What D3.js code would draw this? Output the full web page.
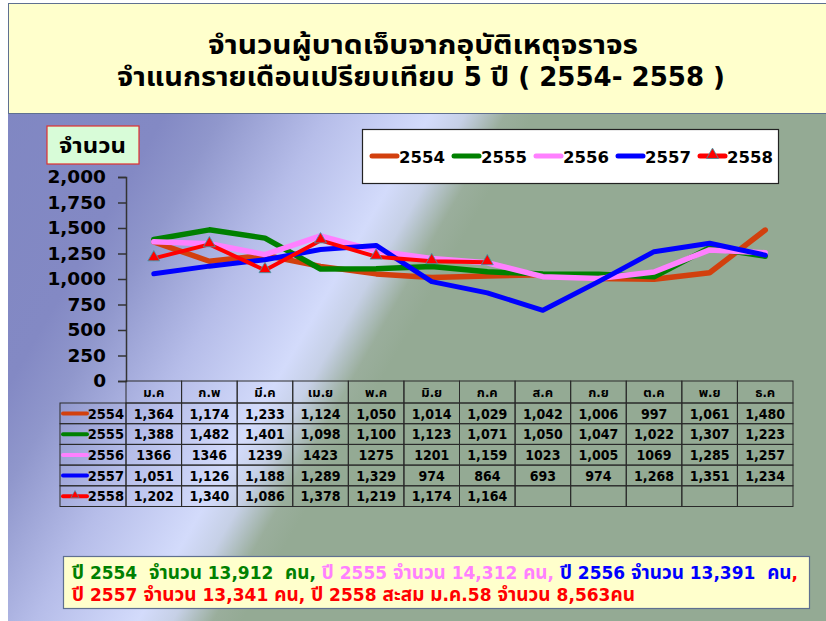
<!DOCTYPE html>
<html lang="th">
<head>
<meta charset="UTF-8">
<title>จำนวนผู้บาดเจ็บจากอุบัติเหตุจราจร</title>
<script src="https://cdnjs.cloudflare.com/ajax/libs/d3/7.8.5/d3.min.js"></script>
<style>
  body { margin: 0; background: #fff; }
  svg { display: block; }
  text { font-family: "DejaVu Sans Condensed", "Noto Sans Thai", "DejaVu Sans", sans-serif; font-weight: bold; }
  .pre { white-space: pre; }
</style>
</head>
<body>
<div id="chart"></div>
<script>
const months = ["ม.ค", "ก.พ", "มี.ค", "เม.ย", "พ.ค", "มิ.ย", "ก.ค", "ส.ค", "ก.ย", "ต.ค", "พ.ย", "ธ.ค"];
const years = ["2554", "2555", "2556", "2557", "2558"];
const v2554 = [1364, 1174, 1233, 1124, 1050, 1014, 1029, 1042, 1006, 997, 1061, 1480];
const v2555 = [1388, 1482, 1401, 1098, 1100, 1123, 1071, 1050, 1047, 1022, 1307, 1223];
const v2556 = [1366, 1346, 1239, 1423, 1275, 1201, 1159, 1023, 1005, 1069, 1285, 1257];
const v2557 = [1051, 1126, 1188, 1289, 1329, 974, 864, 693, 974, 1268, 1351, 1234];
const v2558 = [1202, 1340, 1086, 1378, 1219, 1174, 1164];
// cells of 2556 that the table shows without thousands separator
const plain2556 = [0, 1, 2, 3, 4, 5, 7, 9];
const yTicks = [0, 250, 500, 750, 1000, 1250, 1500, 1750, 2000];
const colors = ["#d2400e", "#008000", "#ff80ff", "#0000ff", "#ff0000"];
const widths = [5.5, 5.5, 5.5, 5, 4];

const series = years.map((y, i) => ({
  name: y,
  values: [v2554, v2555, v2556, v2557, v2558][i],
  color: colors[i],
  width: widths[i],
  marker: i === 4
}));

const W = 826, H = 621;
const svg = d3.select("#chart").append("svg").attr("width", W).attr("height", H);

// background gradient
const defs = svg.append("defs");
const grad = defs.append("linearGradient").attr("id", "bg")
  .attr("gradientUnits", "userSpaceOnUse")
  .attr("x1", 0).attr("y1", 0).attr("x2", 866).attr("y2", 500);
[[0, "#7f86c2"], [0.2, "#8389c4"], [0.25, "#9097cc"], [0.34, "#b6bde9"], [0.43, "#d3dbfb"],
 [0.46, "#c6d0e6"], [0.495, "#9aae9c"], [0.52, "#94aa94"], [1, "#94aa94"]]
  .forEach(s => grad.append("stop").attr("offset", s[0]).attr("stop-color", s[1]));

svg.append("rect").attr("x", 8).attr("y", 113).attr("width", W - 8).attr("height", H - 113)
  .attr("fill", "url(#bg)");

// title box
svg.append("rect").attr("x", 8.5).attr("y", 3.5).attr("width", W).attr("height", 110)
  .attr("fill", "#ffffcc").attr("stroke", "#5f7090");
svg.append("text").attr("x", 208).attr("y", 54)
  .attr("font-size", 26).attr("textLength", 430).attr("lengthAdjust", "spacingAndGlyphs")
  .text("จำนวนผู้บาดเจ็บจากอุบัติเหตุจราจร");
svg.append("text").attr("x", 117).attr("y", 86)
  .attr("font-size", 26).attr("textLength", 608).attr("lengthAdjust", "spacingAndGlyphs")
  .text("จำแนกรายเดือนเปรียบเทียบ 5 ปี ( 2554- 2558 )");

// scales
const x = d3.scaleBand().domain(months).range([126, 793]);
const y = d3.scaleLinear().domain([0, 2000]).range([381, 177]);
const cx = m => x(m) + x.bandwidth() / 2;

// y axis
const yAxis = svg.append("g").attr("transform", "translate(126,0)")
  .call(d3.axisLeft(y).tickValues(yTicks).tickSize(8).tickPadding(12).tickFormat(d3.format(",")));
yAxis.select(".domain").attr("stroke", "#333").attr("stroke-width", 1.5);
yAxis.selectAll(".tick line").attr("stroke", "#333").attr("stroke-width", 1.5);
yAxis.selectAll(".tick text").attr("font-size", 18.5).attr("fill", "#000")
  .style("font-family", "'DejaVu Sans', sans-serif");

// y label box
svg.append("rect").attr("x", 47).attr("y", 126).attr("width", 92).attr("height", 38)
  .attr("fill", "#d8fcd8").attr("stroke", "#e03030").attr("stroke-width", 1.2);
svg.append("text").attr("x", 59).attr("y", 153)
  .attr("font-size", 22).attr("textLength", 67).attr("lengthAdjust", "spacingAndGlyphs").text("จำนวน");

// lines
const line = d3.line().x((d, i) => cx(months[i])).y(d => y(d));
const tri = d3.symbol().type(d3.symbolTriangle).size(62);
series.forEach(s => {
  svg.append("path").datum(s.values)
    .attr("d", line).attr("fill", "none")
    .attr("stroke", s.color).attr("stroke-width", s.width)
    .attr("stroke-linejoin", "round").attr("stroke-linecap", "round");
  if (s.marker) {
    svg.selectAll(null).data(s.values).enter().append("path")
      .attr("d", tri)
      .attr("transform", (d, i) => `translate(${cx(months[i])},${y(d) - 1})`)
      .attr("fill", "#ff0000").attr("stroke", "#33a0b0").attr("stroke-width", 0.8);
  }
});

// legend box
svg.append("rect").attr("x", 362.5).attr("y", 129.5).attr("width", 416).attr("height", 54)
  .attr("fill", "#fff").attr("stroke", "#222").attr("stroke-width", 1.2);
const lg = svg.append("g").selectAll("g").data(series).enter().append("g")
  .attr("transform", (d, i) => `translate(${372 + i * 82},157)`);
lg.append("line").attr("x1", 0).attr("x2", 25).attr("y1", -1).attr("y2", -1)
  .attr("stroke", d => d.color).attr("stroke-width", 5).attr("stroke-linecap", "round");
lg.filter(d => d.marker).append("path").attr("d", tri).attr("transform", "translate(12.5,-2)")
  .attr("fill", "#ff0000").attr("stroke", "#33a0b0").attr("stroke-width", 0.8);
lg.append("text").attr("x", 27).attr("y", 6).attr("font-size", 16.5)
  .style("font-family", "'DejaVu Sans', sans-serif").text(d => d.name);

// data table
const tTop = 381, hRow = 22, dRow = 20.7;
const tbl = svg.append("g");
const grid = "#2a2a2a";
// header cells
tbl.selectAll(".hd").data(months).enter().append("rect")
  .attr("x", d => x(d)).attr("y", tTop).attr("width", x.bandwidth()).attr("height", hRow)
  .attr("fill", "none").attr("stroke", grid).attr("stroke-width", 1);
tbl.selectAll(".ht").data(months).enter().append("text")
  .attr("x", d => cx(d)).attr("y", tTop + 16).attr("text-anchor", "middle")
  .attr("font-size", 13).text(d => d);
// body rows
const fmt = d3.format(",");
series.forEach((s, r) => {
  const ry = tTop + hRow + r * dRow;
  tbl.append("rect").attr("x", 60).attr("y", ry).attr("width", 66).attr("height", dRow)
    .attr("fill", "none").attr("stroke", grid).attr("stroke-width", 1);
  tbl.append("line").attr("x1", 63).attr("x2", 87).attr("y1", ry + 10.5).attr("y2", ry + 10.5)
    .attr("stroke", s.color).attr("stroke-width", 4).attr("stroke-linecap", "round");
  if (s.marker) {
    tbl.append("path").attr("d", d3.symbol().type(d3.symbolTriangle).size(30))
      .attr("transform", `translate(75,${ry + 9.5})`)
      .attr("fill", "#ff0000").attr("stroke", "#33a0b0").attr("stroke-width", 0.6);
  }
  tbl.append("text").attr("x", 124).attr("y", ry + 15.5).attr("text-anchor", "end")
    .attr("font-size", 14.5).text(s.name);
  months.forEach((m, i) => {
    tbl.append("rect").attr("x", x(m)).attr("y", ry).attr("width", x.bandwidth()).attr("height", dRow)
      .attr("fill", "none").attr("stroke", grid).attr("stroke-width", 1);
    const v = s.values[i];
    if (v === undefined) return;
    const label = (s.name === "2556" && plain2556.includes(i)) ? String(v) : fmt(v);
    tbl.append("text").attr("x", cx(m)).attr("y", ry + 15.5).attr("text-anchor", "middle")
      .attr("font-size", 14).text(label);
  });
});

// footer summary box
svg.append("rect").attr("x", 63.5).attr("y", 556.5).attr("width", 746).attr("height", 52)
  .attr("fill", "#ffffcc").attr("stroke", "#5f7090").attr("stroke-width", 1.2);
const foot1 = [
  ["ปี 2554  จำนวน 13,912  คน, ", "#008000"],
  ["ปี 2555 จำนวน 14,312 คน, ", "#ff80ff"],
  ["ปี 2556 จำนวน 13,391  คน", "#0000ff"],
  [",", "#ff0000"]
];
const foot2 = [["ปี 2557 จำนวน 13,341 คน, ปี 2558 สะสม ม.ค.58 จำนวน 8,563คน", "#ff0000"]];
[[foot1, 579, 726], [foot2, 601, 563]].forEach(([segs, by, len]) => {
  const t = svg.append("text").attr("class", "pre").attr("x", 72).attr("y", by)
    .attr("font-size", 18.5).attr("textLength", len).attr("lengthAdjust", "spacingAndGlyphs");
  segs.forEach(sg => t.append("tspan").attr("fill", sg[1]).text(sg[0]));
});
</script>
</body>
</html>
